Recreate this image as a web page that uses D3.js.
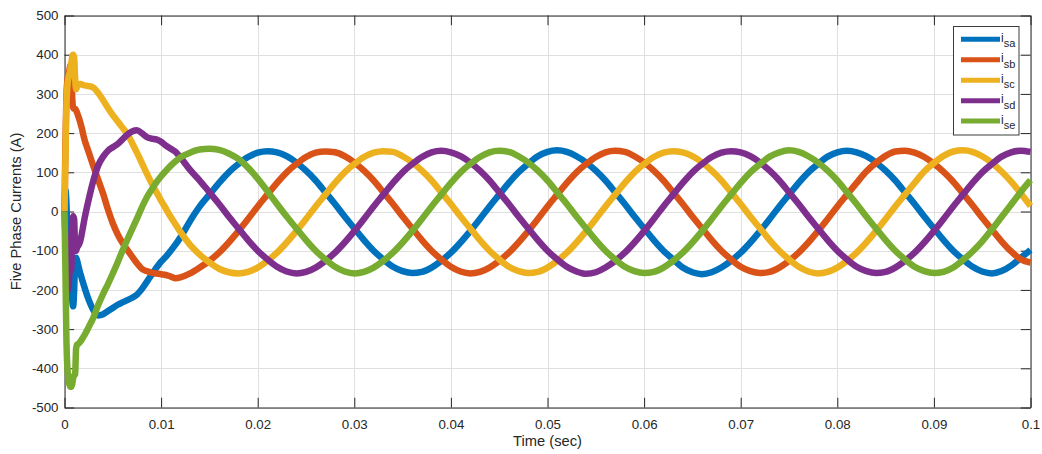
<!DOCTYPE html>
<html>
<head>
<meta charset="utf-8">
<script src="https://cdn.jsdelivr.net/npm/d3@7"></script>
<style>
  html, body { margin: 0; padding: 0; background: #fff; }
  svg text { font-family: "Liberation Sans", Arial, Helvetica, sans-serif; fill: #262626; }
</style>
</head>
<body>
<svg id="chart" width="1042" height="454"></svg>
<script>
// sample times (ms): fine steps in the start-up transient, then every 1 ms
const timeMs = [].concat(
  d3.range(0, 21).map(i => i / 10),       // 0 .. 2.0
  d3.range(5, 25).map(i => i / 2),        // 2.5 .. 12.0
  d3.range(13, 101)                       // 13 .. 100
);

const seriesNames = ["sa", "sb", "sc", "sd", "se"];
const seriesColors = ["#0072BD", "#D95319", "#EDB120", "#7E2F8E", "#77AC30"];

// phase currents in A
const isa = [
  0, 55, 20, -60, -110, -125, -118, -150, -225, -242, -200, -125, -118, -125, -135, -145, -155, -163, -172, -180, -188,
  -225, -252, -265, -262, -254, -246, -238, -232, -226, -220, -212, -198, -180, -162, -144, -128, -115, -100, -84, -66,
  -24, 13, 43, 73, 100, 121, 139, 150, 154, 151,
  141, 125, 104, 79, 49, 19, -13, -43, -73, -100,
  -122, -141, -152, -157, -154, -143, -126, -105, -79, -50,
  -19, 13, 43, 73, 100, 122, 141, 152, 156, 152,
  141, 125, 104, 79, 49, 19, -13, -43, -73, -100,
  -122, -143, -155, -160, -155, -143, -126, -105, -79, -50,
  -19, 13, 43, 73, 100, 121, 140, 151, 155, 151,
  141, 125, 104, 79, 49, 19, -13, -43, -73, -100,
  -122, -141, -153, -158, -152, -138, -118, -98
];

const isb = [
  0, 180, 295, 335, 350, 360, 372, 375, 290, 265, 262, 262, 258, 252, 245, 238, 230, 221, 212, 201, 190,
  152, 115, 80, 45, 5, -30, -58, -80, -98, -115, -132, -146, -152, -156, -158, -160, -162, -166, -170, -168,
  -158, -143, -126, -105, -79, -50, -19, 13, 43, 73,
  100, 121, 139, 150, 153, 151, 141, 125, 104, 79,
  49, 19, -13, -43, -73, -100, -122, -141, -153, -158,
  -154, -143, -126, -105, -79, -50, -19, 13, 43, 73,
  100, 121, 139, 151, 155, 152, 141, 125, 104, 79,
  49, 19, -13, -43, -73, -100, -122, -141, -152, -157,
  -154, -143, -126, -105, -79, -50, -19, 13, 43, 73,
  102, 124, 142, 153, 155, 150, 139, 122, 101, 76,
  46, 16, -16, -46, -76, -102, -122, -130
];

const isc = [
  0, 140, 270, 320, 340, 350, 362, 378, 395, 400, 392, 340, 312, 318, 322, 324, 325, 325, 324, 323, 322,
  320, 316, 302, 284, 264, 246, 230, 214, 198, 175, 150, 124, 98, 73, 50, 28, 7, -14, -33, -52,
  -85, -110, -130, -146, -155, -158, -154, -143, -126, -105,
  -79, -50, -19, 13, 43, 73, 100, 121, 139, 150,
  154, 152, 141, 125, 104, 79, 49, 19, -13, -43,
  -73, -100, -122, -141, -152, -157, -154, -143, -126, -105,
  -79, -50, -19, 13, 43, 73, 100, 121, 139, 150,
  154, 151, 141, 125, 104, 79, 49, 19, -13, -43,
  -73, -100, -122, -141, -153, -158, -154, -143, -126, -105,
  -79, -50, -19, 13, 43, 73, 102, 124, 142, 153,
  156, 152, 141, 124, 102, 76, 46, 14
];

const isd = [
  0, -70, -140, -190, -200, -160, -145, -150, -40, -12, -20, -95, -100, -92, -88, -84, -78, -68, -55, -42, -28,
  30, 80, 118, 140, 155, 164, 172, 184, 196, 204, 207, 200, 190, 186, 184, 178, 168, 160, 152, 138,
  106, 79, 49, 19, -13, -43, -73, -100, -122, -141,
  -153, -158, -154, -143, -126, -105, -79, -50, -19, 13,
  43, 73, 100, 121, 139, 151, 155, 151, 141, 125,
  104, 79, 49, 19, -13, -43, -73, -100, -122, -141,
  -153, -159, -155, -143, -126, -105, -79, -50, -19, 13,
  43, 73, 100, 121, 139, 150, 154, 151, 141, 125,
  104, 79, 49, 19, -13, -43, -73, -100, -122, -141,
  -152, -157, -154, -143, -126, -105, -79, -50, -19, 13,
  43, 73, 100, 121, 140, 151, 155, 152
];

const ise = [
  0, -160, -330, -400, -425, -440, -447, -447, -440, -425, -418, -415, -350, -340, -338, -336, -333, -330, -326, -322, -318,
  -295, -270, -238, -210, -185, -158, -130, -100, -72, -45, -18, 10, 35, 55, 74, 90, 104, 117, 128, 138,
  150, 158, 160, 157, 148, 134, 112, 84, 52, 19,
  -13, -43, -73, -100, -122, -141, -153, -158, -154, -143,
  -126, -105, -79, -50, -19, 13, 43, 73, 100, 121,
  139, 151, 155, 152, 141, 125, 104, 79, 49, 19,
  -13, -43, -73, -100, -122, -141, -152, -157, -154, -143,
  -126, -105, -79, -50, -19, 13, 43, 73, 100, 121,
  140, 151, 156, 152, 141, 125, 104, 79, 49, 19,
  -13, -43, -73, -100, -122, -141, -152, -157, -154, -143,
  -124, -102, -76, -46, -14, 18, 50, 80
];

const xTicks = [0, 0.01, 0.02, 0.03, 0.04, 0.05, 0.06, 0.07, 0.08, 0.09, 0.1];
const xTickLabels = ["0", "0.01", "0.02", "0.03", "0.04", "0.05", "0.06", "0.07", "0.08", "0.09", "0.1"];
const yTicks = [-500, -400, -300, -200, -100, 0, 100, 200, 300, 400, 500];

const seriesValues = [isa, isb, isc, isd, ise];

const svg = d3.select("#chart");
const axisColor = "#262626";

const x = d3.scaleLinear().domain([0, 0.1]).range([64.5, 1030.5]);
const y = d3.scaleLinear().domain([-500, 500]).range([407.5, 15.5]);
const tickLen = 9.7;

// grid
const grid = svg.append("g");
grid.selectAll(".gx").data(xTicks).join("line")
  .attr("x1", d => Math.round(x(d)) + 0.5).attr("x2", d => Math.round(x(d)) + 0.5)
  .attr("y1", y(500)).attr("y2", y(-500))
  .attr("stroke", "#dfdfdf").attr("stroke-width", 1);
grid.selectAll(".gy").data(yTicks).join("line")
  .attr("x1", x(0)).attr("x2", x(0.1))
  .attr("y1", d => Math.round(y(d)) + 0.5).attr("y2", d => Math.round(y(d)) + 0.5)
  .attr("stroke", "#dfdfdf").attr("stroke-width", 1);

// axes (ticks inside, box on)
function styleAxis(g, fontSize) {
  g.selectAll("path, line").attr("stroke", axisColor);
  g.selectAll("text").attr("font-size", fontSize).attr("fill", axisColor)
    .attr("font-family", "Liberation Sans, Arial, sans-serif");
}

svg.append("g").attr("transform", `translate(0,${y(-500)})`)
  .call(d3.axisBottom(x).tickValues(xTicks).tickFormat((d, i) => xTickLabels[i])
    .tickSizeInner(-tickLen).tickSizeOuter(0).tickPadding(12))
  .call(g => styleAxis(g, "13.3px"));

svg.append("g").attr("transform", `translate(0,${y(500)})`)
  .call(d3.axisTop(x).tickValues(xTicks).tickFormat("")
    .tickSizeInner(-tickLen).tickSizeOuter(0))
  .call(g => styleAxis(g, "13.3px"));

svg.append("g").attr("transform", `translate(${x(0)},0)`)
  .call(d3.axisLeft(y).tickValues(yTicks).tickFormat(d => String(d))
    .tickSizeInner(-tickLen).tickSizeOuter(0).tickPadding(6))
  .call(g => styleAxis(g, "13.3px"));

svg.append("g").attr("transform", `translate(${x(0.1)},0)`)
  .call(d3.axisRight(y).tickValues(yTicks).tickFormat("")
    .tickSizeInner(-tickLen).tickSizeOuter(0))
  .call(g => styleAxis(g, "13.3px"));

// currents
const line = d3.line()
  .x(d => x(d.t / 1000))
  .y(d => y(d.v))
  .curve(d3.curveMonotoneX);

seriesValues.forEach((vals, k) => {
  const pts = timeMs.map((t, i) => ({ t: t, v: vals[i] }));
  svg.append("path")
    .datum(pts)
    .attr("d", line)
    .attr("fill", "none")
    .attr("stroke", seriesColors[k])
    .attr("stroke-width", 6.5)
    .attr("stroke-linejoin", "round");
});

// axis labels
svg.append("text")
  .attr("x", (x(0) + x(0.1)) / 2).attr("y", 446)
  .attr("text-anchor", "middle").attr("font-size", "14.7px")
  .text("Time (sec)");

svg.append("text")
  .attr("transform", `translate(21,${y(0)}) rotate(-90)`)
  .attr("text-anchor", "middle").attr("font-size", "14.7px")
  .text("Five Phase Currents (A)");

// legend
const legend = svg.append("g");
legend.append("rect")
  .attr("x", 953.5).attr("y", 26.5).attr("width", 65.5).attr("height", 108.5)
  .attr("fill", "#fff").attr("stroke", "#3c3c3c").attr("stroke-width", 1);

seriesNames.forEach((name, k) => {
  const ly = 39.3 + k * 20.45;
  legend.append("line")
    .attr("x1", 961).attr("x2", 1000).attr("y1", ly).attr("y2", ly)
    .attr("stroke", seriesColors[k]).attr("stroke-width", 5);
  const t = legend.append("text")
    .attr("x", 1001).attr("y", ly + 2.6).attr("font-size", "12px");
  t.append("tspan").text("i");
  t.append("tspan").attr("dy", 5.5).attr("font-size", "11px").text(name);
});
</script>
</body>
</html>
